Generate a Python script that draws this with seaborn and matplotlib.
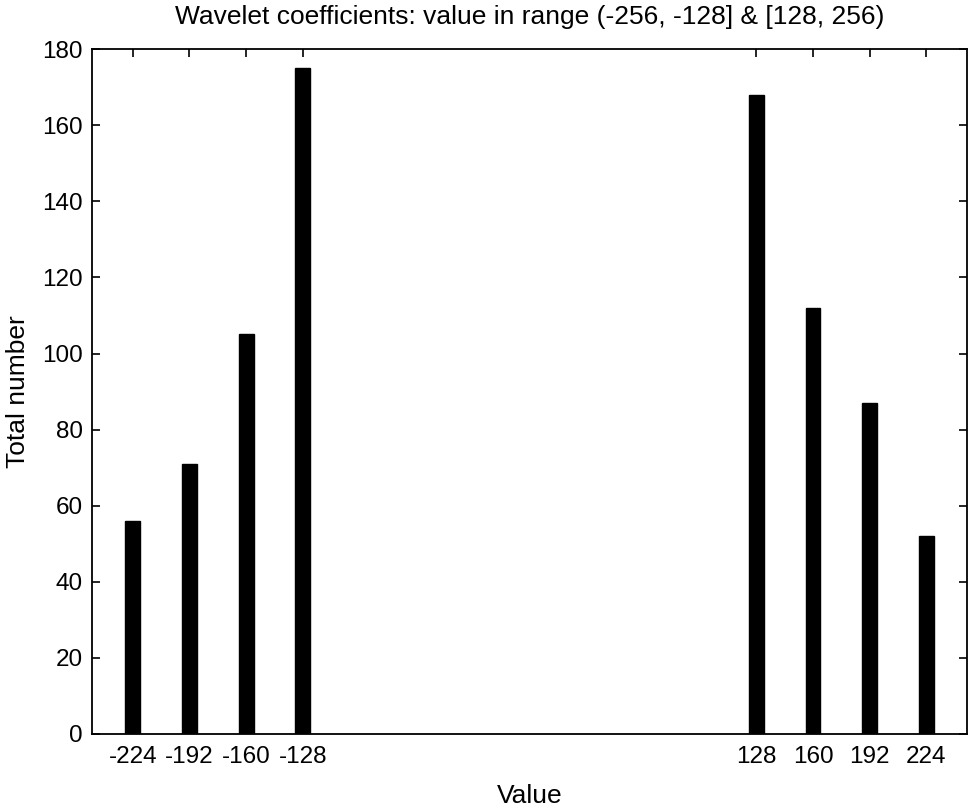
import matplotlib
matplotlib.use("Agg")
import matplotlib.pyplot as plt
import seaborn as sns
import pandas as pd

values = [-224, -192, -160, -128, 128, 160, 192, 224]
counts = [56, 71, 105, 175, 168, 112, 87, 52]
tick_labels = ["-224", "-192", "-160", "-128", "128", "160", "192", "224"]
y_ticks = [0, 20, 40, 60, 80, 100, 120, 140, 160, 180]

sns.set_theme(style="ticks")
plt.rcParams['font.family'] = ['Liberation Sans', 'DejaVu Sans']

df = pd.DataFrame({"Value": values, "Total number": counts})

fig = plt.figure(figsize=(9.69, 8.08), dpi=100)
ax = fig.add_axes([0.095, 0.0916, 0.903, 0.8476])

sns.barplot(data=df, x="Value", y="Total number", native_scale=True,
            width=0.26, color="black", edgecolor="black", saturation=1, ax=ax)

ax.set_xlim(-247, 247)
ax.set_ylim(0, 180)
ax.set_xticks(values)
ax.set_xticklabels(tick_labels)
ax.set_yticks(y_ticks)
for s in ax.spines.values():
    s.set_visible(True)
    s.set_color("black")
    s.set_linewidth(1.3)
ax.tick_params(direction="in", length=6, width=1.2, top=True, right=True,
               labelsize=17.5, colors="black")
ax.tick_params(axis="x", pad=9)
ax.tick_params(axis="y", pad=6.5)
ax.set_xlabel("Value", fontsize=19, color="black", labelpad=11)
ax.set_ylabel("Total number", fontsize=19, color="black", labelpad=9)
ax.set_title("Wavelet coefficients: value in range (-256, -128] & [128, 256)",
             fontsize=19, color="black", pad=18)

fig.savefig("out.png", dpi=100)
